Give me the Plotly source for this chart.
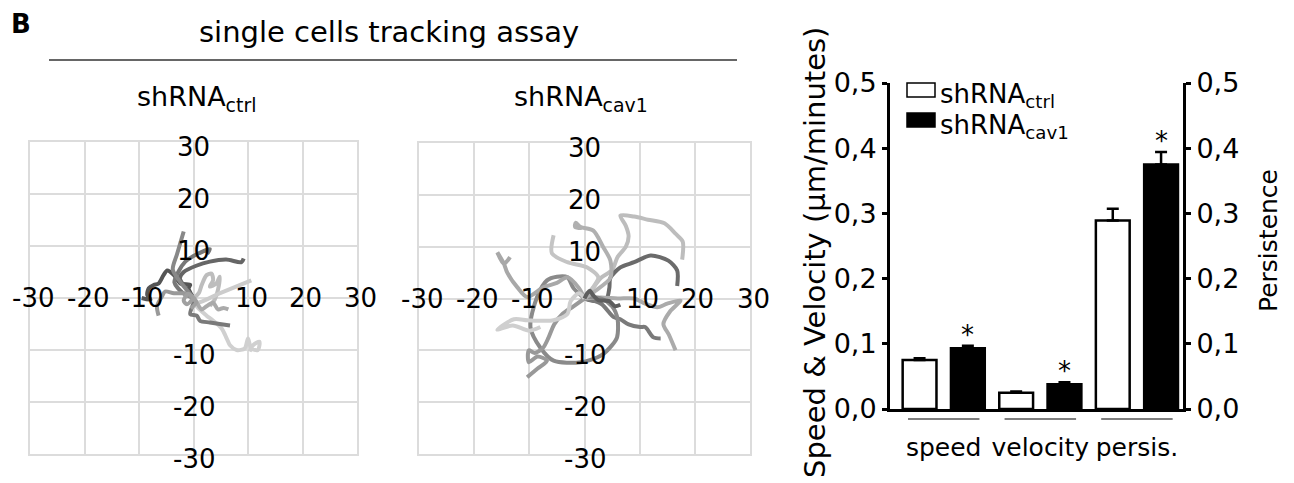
import plotly.graph_objects as go

W, H = 1294, 483
FONT = "DejaVu Sans"

# ---------------- data ----------------
grid_ticks = [-30, -20, -10, 10, 20, 30]

# shRNA ctrl tracks (µm)
ctrl_x = [
    [0, -0.9, -0.6, -2.4, -3.6, -4.8, -5.5, -6.4, -7.3, -8.2, -8.5, -7.9, -9.5],
    [0, -1.5, -2.5, -1.8, 0.5, 3, 6, 8.8, 9.2],
    [0, -2, -3.5, -2.8, -1.5, 0.6, 3, 2.5],
    [0, -1.2, -2.5, -3.8, -3, -1.8],
    [0, 1, 1.5, 2.4, 3.3, 3.6, 3, 4.2, 4.8, 4.5, 3.9, 3],
    [0, 0.6, 5, 10.6],
    [0, 0.3, 2.4, 3.3, 5.2, 6.1, 6.7, 7.9, 9.4, 10, 10.6, 11.8, 12.1, 10.9, 10.3],
    [0, -1.8, -3.6, -5.2, -5.8, -6.7, -6.4],
    [0, 0, -0.6, 0.6, 1.2, 3, 4.8, 6.7],
    [0, 0.6, 1.5, 2.4, 3.6, 4.5, 5.5, 6.4],
    [0, -1.2, -1.8, -1, 0.5, -0.5],
]
ctrl_y = [
    [0, 1.9, 2.5, 2.8, 4.4, 5.3, 4.4, 2.8, 2.5, 1.9, 0.6, -0.3, 0],
    [0, 2, 3.8, 5, 6.2, 7, 7.4, 6.9, 7.6],
    [0, 1, 3, 5, 7, 8.4, 9.4, 8.5],
    [0, 1.5, 3.2, 5.5, 8.5, 12.8],
    [0, 1, 2.5, 4.4, 4.7, 3.4, 2.2, 2.8, 4.1, 1.6, -0.3, -1.5],
    [0, -0.9, 1, 3.4],
    [0, -1.25, -3.4, -4.1, -5.9, -7.8, -9.1, -10, -9.7, -7.8, -9.7, -10, -8.4, -9.1, -10.3],
    [0, 0.9, 0.9, 1.25, 0.3, -1.6, -3.4],
    [0, -0.9, -3.1, -3.4, -4.4, -4.7, -5, -5.3],
    [0, -0.9, -2.2, -1.6, -0.9, -2.2, -1.9, -2.2],
    [0, -1.2, -0.5, 0.8, -0.8, -2],
]
ctrl_gray = ["#555555", "#666666", "#777777", "#888888", "#bdbdbd", "#cccccc",
             "#d0d0d0", "#999999", "#7a7a7a", "#aaaaaa", "#a0a0a0"]

# shRNA cav1 tracks (µm)
cav1_x = [
    [0, 1.5, 3, 5, 6, 7.5, 8, 7.5, 6.5, 9, 11.5, 14.5, 16.5, 17.8, 17.7],
    [0, 2, 4, 4.5, 4.7, 6.5, 9, 12, 15.2, 16.8, 16.8],
    [0, 3, 5.3, 6.5, 8, 10.1, 11, 12.5, 13.8],
    [0, 3, 6, 9, 11, 13.2, 15, 17.4, 15.5, 14.3, 15.3, 16.5],
    [0, -2, -3.1, -5, -6.8, -8.6, -9.8, -8, -5.6, -0.7, 3, 5, 5.9, 6, 5, 3, 0.5],
    [0, -2, -4, -5.5, -6.5, -7.5, -9, -10.1, -10.1, -8.5, -6.8, -8.5, -10.4],
    [0, -1, -3.1, -5, -7.4, -10.4, -12.2, -14, -14.6, -15.8, -14.6, -13.5],
    [0, -1, -2.5, -3.1, -5.6, -8, -10.4, -12.8, -15.8, -13, -10, -8],
    [0, 1.6, 2.5, 0.5, -3.1, -5.9, -5.6],
    [0, 2, 4.7, 4.7, 3.4, 1.6, -0.7, -1.6, -1.7, -0.5],
    [0, 0.5, 1, 1.5, 2.5, 4.5, 5.5, 6.5],
]
cav1_y = [
    [0, 2, 4, 5.5, 8, 10, 12, 14, 16, 15.8, 15.2, 14.5, 12.5, 11, 7.5],
    [0, -0.5, 0, 2, 4, 6, 7, 8.3, 7.3, 5.4, 2.4],
    [0, -1, -3.6, -4, -5, -5.5, -5.5, -7.5, -7.7],
    [0, 0.2, 0, 0, -1, -1.7, -1, -0.4, -2.5, -4.9, -7, -10],
    [0, 2, 4.1, 4.2, 3.5, 0.3, -5.5, -9.5, -12, -12.3, -11, -9, -7.5, -4, -1.5, 0, 0.3],
    [0, -1.5, -3, -5, -7.5, -9.5, -10.5, -10, -12.3, -11.2, -12, -13.5, -15.2],
    [0, 2, 4.1, 3, 2.2, 0.3, 2.2, 5, 6.7, 8.9, 6.7, 8],
    [0, 1, -0.5, -3, -4.2, -4.3, -4.2, -4, -6, -5.2, -6.2, -5.5],
    [0, 2.2, 4.1, 6, 7, 8.7, 12.2],
    [0, 1.5, 4, 7.3, 9.9, 13.1, 13.8, 14.6, 13.8, 13.6],
    [0, 1, 1.5, 0.7, -0.3, -0.5, -1.5, -1.2],
]
cav1_gray = ["#bdbdbd", "#6b6b6b", "#7a7a7a", "#ababab", "#8a8a8a", "#999999",
             "#a8a8a8", "#cfcfcf", "#c4c4c4", "#b0b0b0", "#5e5e5e"]

# bar chart
categories = ["speed", "velocity", "persis."]
ctrl_mean = [0.075, 0.025, 0.289]
ctrl_err = [0.003, 0.002, 0.018]
cav1_mean = [0.093, 0.038, 0.375]
cav1_err = [0.004, 0.003, 0.019]
cav1_signif = [True, True, True]
bar_ticks = [0.0, 0.1, 0.2, 0.3, 0.4, 0.5]


def px(x):
    return x / W


def py(y):
    return 1 - y / H


fig = go.Figure()

# ---------------- trajectories ----------------
for xs, ys, col in zip(ctrl_x, ctrl_y, ctrl_gray):
    fig.add_trace(go.Scatter(x=xs, y=ys, mode="lines", xaxis="x", yaxis="y",
                             line=dict(color=col, width=4, shape="spline", smoothing=0.8),
                             showlegend=False, hoverinfo="skip"))
for xs, ys, col in zip(cav1_x, cav1_y, cav1_gray):
    fig.add_trace(go.Scatter(x=xs, y=ys, mode="lines", xaxis="x2", yaxis="y2",
                             line=dict(color=col, width=4, shape="spline", smoothing=0.8),
                             showlegend=False, hoverinfo="skip"))

# ---------------- bars ----------------
BARGAP, GROUPGAP = 0.0, 0.3
fig.add_trace(go.Bar(x=categories, y=ctrl_mean, name="shRNA<sub>ctrl</sub>",
                     xaxis="x3", yaxis="y3",
                     marker=dict(color="white", line=dict(color="black", width=2.5)),
                     error_y=dict(type="data", array=ctrl_err, arrayminus=[0] * 3,
                                  symmetric=False, color="black", thickness=2.5, width=6),
                     showlegend=False))
fig.add_trace(go.Bar(x=categories, y=cav1_mean, name="shRNA<sub>cav1</sub>",
                     xaxis="x3", yaxis="y3",
                     marker=dict(color="black", line=dict(color="black", width=2.5)),
                     error_y=dict(type="data", array=cav1_err, arrayminus=[0] * 3,
                                  symmetric=False, color="black", thickness=2.5, width=6),
                     showlegend=False))
# empty trace to attach the right-hand persistence axis
fig.add_trace(go.Scatter(x=[], y=[], xaxis="x3", yaxis="y4", showlegend=False))

annotations = []
shapes = []


def note(x, y, text, size, **kw):
    d = dict(x=x, y=y, xref="paper", yref="paper", text=text, showarrow=False,
             xanchor="center", yanchor="middle", font=dict(size=size))
    d.update(kw)
    return d


# tick labels for trajectory panels
for xa, ya in [("x", "y"), ("x2", "y2")]:
    for t in grid_ticks:
        annotations.append(dict(x=t, y=0, xref=xa, yref=ya, text=str(t), showarrow=False,
                                xanchor="center", yanchor="middle",
                                xshift=3, font=dict(size=26)))
        annotations.append(dict(x=0, y=t, xref=xa, yref=ya, text=str(t), showarrow=False,
                                xanchor="center", yanchor="middle",
                                yshift=-5, font=dict(size=26)))

# significance stars
for i, (m, e, s) in enumerate(zip(cav1_mean, cav1_err, cav1_signif)):
    if s:
        annotations.append(dict(x=i + (1 - BARGAP) / 4, y=m + e, xref="x3", yref="y3",
                                text="*", showarrow=False, xanchor="center", yanchor="bottom",
                                yshift=-6, font=dict(size=26, color="black")))

# category underlines
for i, _ in enumerate(categories):
    shapes.append(dict(type="line", xref="x3", yref="paper", x0=i - 0.37, x1=i + 0.37,
                       y0=py(419), y1=py(419), line=dict(color="#555555", width=1.5)))

# header, panel titles, bar-chart axis titles and legend
annotations += [
    note(px(21), py(24), "<b>B</b>", 26),
    note(px(389), py(32), "single cells tracking assay", 29),
    note(px(196), py(98), "shRNA<sub>ctrl</sub>", 27),
    note(px(581), py(98), "shRNA<sub>cav1</sub>", 27),
    note(px(815), py(253), "Speed & Velocity (µm/minutes)", 29, textangle=-90),
    note(px(1268), py(241), "Persistence", 25, textangle=-90),
    note(px(938), py(96), "shRNA<sub>ctrl</sub>", 26, xanchor="left"),
    note(px(938), py(126), "shRNA<sub>cav1</sub>", 26, xanchor="left"),
]
shapes += [
    dict(type="line", xref="paper", yref="paper", x0=px(49), x1=px(737), y0=py(60), y1=py(60),
         line=dict(color="#333333", width=1.5)),
    dict(type="rect", xref="paper", yref="paper", x0=px(907), x1=px(935), y0=py(83), y1=py(97),
         fillcolor="white", line=dict(color="black", width=1.5)),
    dict(type="rect", xref="paper", yref="paper", x0=px(907), x1=px(935), y0=py(113), y1=py(127),
         fillcolor="black", line=dict(color="black", width=1.5)),
]

grid_axis = dict(range=[-30, 30], dtick=10, tick0=0, showgrid=True, gridcolor="#dcdcdc",
                 gridwidth=1.5, zeroline=False, showline=True, mirror=True,
                 linecolor="#dcdcdc", linewidth=1.5, showticklabels=False, ticks="",
                 fixedrange=True, automargin=False)

fig.update_layout(
    width=W, height=H, autosize=False,
    margin=dict(l=0, r=0, t=0, b=0, pad=0, autoexpand=False),
    paper_bgcolor="white", plot_bgcolor="rgba(0,0,0,0)",
    font=dict(family=FONT, color="black"),
    separators=",.",
    showlegend=False,
    barmode="group", bargap=BARGAP, bargroupgap=GROUPGAP,
    xaxis=dict(grid_axis, domain=[px(30), px(357)], anchor="y"),
    yaxis=dict(grid_axis, domain=[py(454), py(142)], anchor="x"),
    xaxis2=dict(grid_axis, domain=[px(419), px(750)], anchor="y2"),
    yaxis2=dict(grid_axis, domain=[py(454), py(143)], anchor="x2"),
    xaxis3=dict(domain=[px(890), px(1183)], anchor="y3", type="category",
                range=[-0.556, 2.477], showline=True, linecolor="black", linewidth=3,
                ticks="", showgrid=False, tickfont=dict(size=25), ticklabelstandoff=14,
                automargin=False),
    yaxis3=dict(domain=[py(409), py(83)], anchor="x3", range=[0, 0.5], tickvals=bar_ticks,
                tickformat=".1f", showline=True, linecolor="black", linewidth=3,
                ticks="outside", ticklen=5, tickwidth=3, tickcolor="black",
                showgrid=False, zeroline=False, tickfont=dict(size=27), automargin=False),
    yaxis4=dict(overlaying="y3", side="right", anchor="x3", range=[0, 0.5],
                tickvals=bar_ticks, tickformat=".1f", showline=True, linecolor="black",
                linewidth=3, ticks="outside", ticklen=5, tickwidth=3, tickcolor="black",
                showgrid=False, zeroline=False, tickfont=dict(size=27), automargin=False),
    annotations=annotations,
    shapes=shapes,
)

fig.write_html("out.html", config={"responsive": False, "displayModeBar": False},
               post_script="document.body.style.margin='0';document.body.style.overflow='hidden';")
